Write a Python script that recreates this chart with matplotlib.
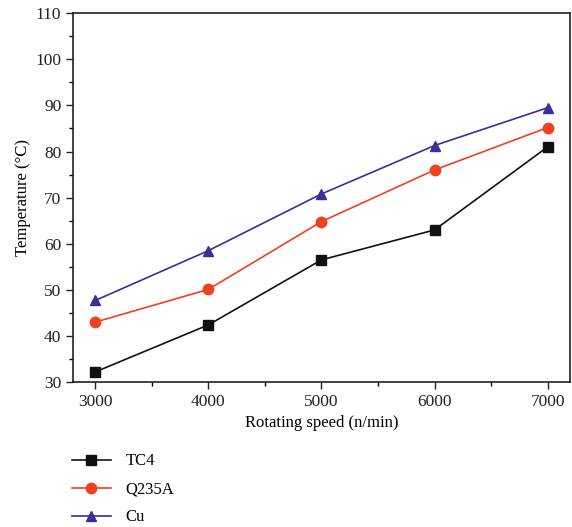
import matplotlib.pyplot as plt
from matplotlib.ticker import MultipleLocator

speed = [3000, 4000, 5000, 6000, 7000]
tc4 = [32.2, 42.4, 56.5, 63.0, 81.0]
q235a = [43.0, 50.1, 64.8, 76.0, 85.2]
cu = [47.7, 58.5, 70.8, 81.3, 89.5]

plt.rcParams['font.family'] = ['Liberation Serif', 'DejaVu Serif']
plt.rcParams['font.size'] = 11

fig = plt.figure(figsize=(5.72, 5.27), dpi=100)
ax = fig.add_axes([0.128, 0.275, 0.868, 0.700])

l1, = ax.plot(speed, tc4, color='#111111', marker='s', markersize=7, lw=1.2, label='TC4')
l2, = ax.plot(speed, q235a, color='#ee4123', marker='o', markersize=7.5, lw=1.2, label='Q235A')
l3, = ax.plot(speed, cu, color='#3b2e97', marker='^', markersize=7.5, lw=1.2, label='Cu')

ax.set_xlim(2805, 7195)
ax.set_ylim(30, 110)
ax.xaxis.set_major_locator(MultipleLocator(1000))
ax.xaxis.set_minor_locator(MultipleLocator(500))
ax.yaxis.set_major_locator(MultipleLocator(10))
ax.yaxis.set_minor_locator(MultipleLocator(5))
ax.tick_params(which='major', direction='out', length=5, width=1, labelsize=12.5, colors='#222222')
ax.tick_params(which='minor', direction='out', length=3, width=1)
ax.tick_params(top=False, right=False)
for s in ax.spines.values():
    s.set_linewidth(1.2)
    s.set_color('#222222')

ax.set_xlabel('Rotating speed (n/min)', fontsize=12, labelpad=4)
ax.set_ylabel('Temperature (°C)', fontsize=12)
ax.yaxis.set_label_coords(-0.085, 0.5)

fig.legend(handles=[l1, l2, l3], loc='upper left', bbox_to_anchor=(0.10, 0.168),
           frameon=False, fontsize=12, handlelength=2.3, labelspacing=0.72, handletextpad=0.9)

fig.savefig('out.png', dpi=100)
